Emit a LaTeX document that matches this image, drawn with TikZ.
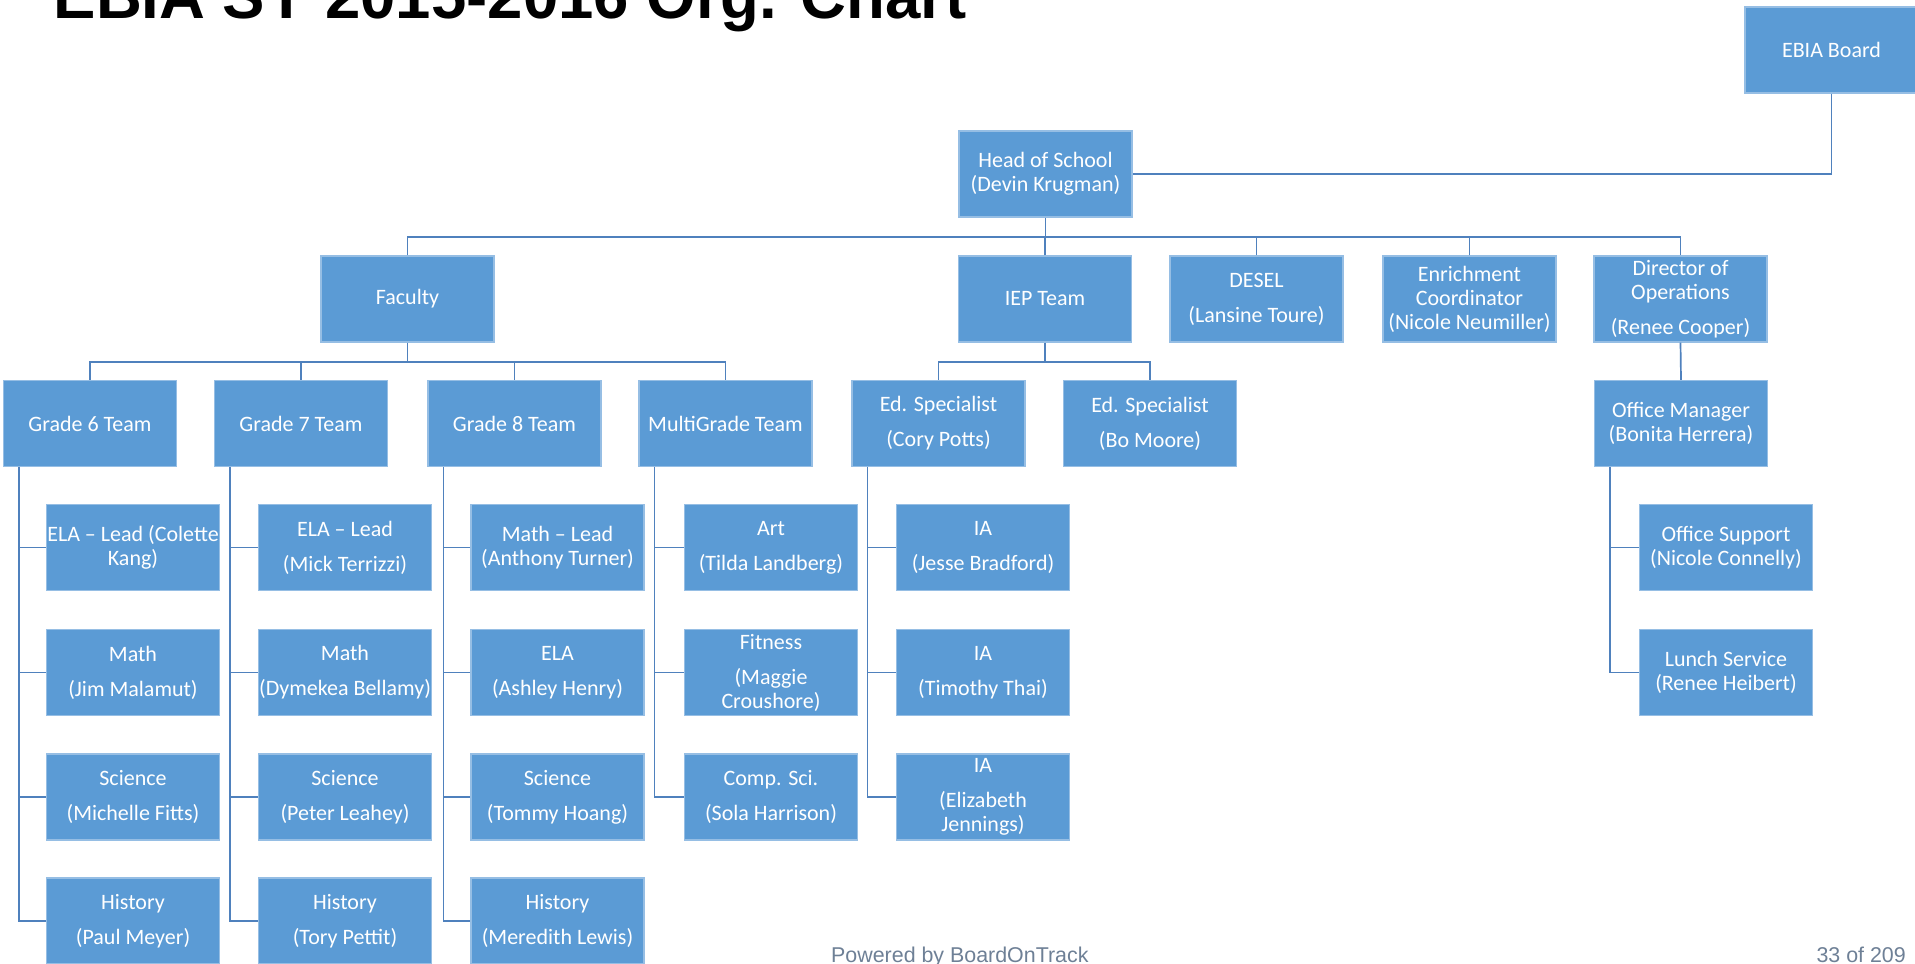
\documentclass[tikz,border=0pt]{standalone}
\usepackage{fontspec}
\setmainfont{Carlito}
\newfontfamily\arialfont{Liberation Sans}
\definecolor{boxblue}{RGB}{91,155,213}
\definecolor{boxedge}{RGB}{150,190,228}
\definecolor{connblue}{RGB}{79,129,189}
\definecolor{footgray}{RGB}{110,128,150}
\tikzset{
  orgbox/.style={rectangle, fill=boxblue, draw=boxedge, line width=1.2pt,
    minimum width=173pt, minimum height=86pt, inner sep=0pt, align=center,
    text=white, font=\fontsize{22}{24}\selectfont},
  conn/.style={draw=connblue, line width=1.7pt},
}
\newcommand{\gp}{\\[11pt]}
\begin{document}
\begin{tikzpicture}[x=1pt,y=-1pt]
\useasboundingbox[fill=white] (0,0) rectangle (1915,964);
% title and footer
\node[anchor=base west, inner sep=0pt, font=\arialfont\bfseries\fontsize{63.5}{70}\selectfont] (title) at (53.5,18) {EBIA SY 2015-2016 Org. Chart};
\node[anchor=base west, inner sep=0pt, text=footgray, font=\arialfont\fontsize{21.4}{24}\selectfont] (foot) at (831,962) {Powered by BoardOnTrack};
\node[anchor=base east, inner sep=0pt, text=footgray, font=\arialfont\fontsize{21.4}{24}\selectfont] (page) at (1906,962) {33 of 209};
% top levels
\node[orgbox] (board) at (1831.5,50) {EBIA Board};
\node[orgbox] (head) at (1045.5,174) {Head of School\\(Devin Krugman)};
\node[orgbox] (faculty) at (407.5,299) {Faculty};
\node[orgbox] (iep) at (1045,299) {IEP Team};
\node[orgbox] (desel) at (1256.5,299) {DESEL\gp(Lansine Toure)};
\node[orgbox] (enrich) at (1469.5,299) {Enrichment\\Coordinator\\(Nicole Neumiller)};
\node[orgbox] (dir) at (1680.5,299) {Director of\\Operations\gp(Renee Cooper)};
% level 3
\node[orgbox] (g6) at (90,423.5) {Grade 6 Team};
\node[orgbox] (g7) at (301,423.5) {Grade 7 Team};
\node[orgbox] (g8) at (514.5,423.5) {Grade 8 Team};
\node[orgbox] (multi) at (725.5,423.5) {MultiGrade Team};
\node[orgbox] (ed1) at (938.5,423.5) {Ed. Specialist\gp(Cory Potts)};
\node[orgbox] (ed2) at (1150,423.5) {Ed. Specialist\gp(Bo Moore)};
\node[orgbox] (om) at (1681,423.5) {Office Manager\\(Bonita Herrera)};
% grade 6
\node[orgbox] (g6a) at (133,547.5) {ELA – Lead (Colette\\Kang)};
\node[orgbox] (g6b) at (133,672.5) {Math\gp(Jim Malamut)};
\node[orgbox] (g6c) at (133,797) {Science\gp(Michelle Fitts)};
\node[orgbox] (g6d) at (133,921) {History\gp(Paul Meyer)};
% grade 7
\node[orgbox] (g7a) at (345,547.5) {ELA – Lead\gp(Mick Terrizzi)};
\node[orgbox] (g7b) at (345,672.5) {Math\gp(Dymekea Bellamy)};
\node[orgbox] (g7c) at (345,797) {Science\gp(Peter Leahey)};
\node[orgbox] (g7d) at (345,921) {History\gp(Tory Pettit)};
% grade 8
\node[orgbox] (g8a) at (557.5,547.5) {Math – Lead\\(Anthony Turner)};
\node[orgbox] (g8b) at (557.5,672.5) {ELA\gp(Ashley Henry)};
\node[orgbox] (g8c) at (557.5,797) {Science\gp(Tommy Hoang)};
\node[orgbox] (g8d) at (557.5,921) {History\gp(Meredith Lewis)};
% multigrade
\node[orgbox] (ma) at (771,547.5) {Art\gp(Tilda Landberg)};
\node[orgbox] (mb) at (771,672.5) {Fitness\gp(Maggie\\Croushore)};
\node[orgbox] (mc) at (771,797) {Comp. Sci.\gp(Sola Harrison)};
% IA
\node[orgbox] (ia1) at (983,547.5) {IA\gp(Jesse Bradford)};
\node[orgbox] (ia2) at (983,672.5) {IA\gp(Timothy Thai)};
\node[orgbox] (ia3) at (983,797) {IA\gp(Elizabeth\\Jennings)};
% office
\node[orgbox] (os) at (1726,547.5) {Office Support\\(Nicole Connelly)};
\node[orgbox] (ls) at (1726,672.5) {Lunch Service\\(Renee Heibert)};
% connectors top
\draw[conn] (board.south) |- (head.east);
\coordinate (hbar) at (1045,237);
\draw[conn] (head.south) -- (head.south |- hbar);
\draw[conn] (faculty.north) -- (faculty.north |- hbar) -- (dir.north |- hbar) -- (dir.north);
\foreach \n in {iep,desel,enrich} \draw[conn] (\n.north) -- (\n.north |- hbar);
\coordinate (fbar) at (407,362);
\draw[conn] (faculty.south) -- (faculty.south |- fbar);
\draw[conn] (g6.north) -- (g6.north |- fbar) -- (multi.north |- fbar) -- (multi.north);
\foreach \n in {g7,g8} \draw[conn] (\n.north) -- (\n.north |- fbar);
\draw[conn] (iep.south) -- (iep.south |- fbar);
\draw[conn] (ed1.north) -- (ed1.north |- fbar) -- (ed2.north |- fbar) -- (ed2.north);
\draw[conn] (dir.south) -- (om.north);
% child connectors
\foreach \p/\kids/\last in {g6/{g6a,g6b,g6c,g6d}/g6d, g7/{g7a,g7b,g7c,g7d}/g7d, g8/{g8a,g8b,g8c,g8d}/g8d, multi/{ma,mb,mc}/mc, ed1/{ia1,ia2,ia3}/ia3, om/{os,ls}/ls}{
  \coordinate (\p l) at ([xshift=16pt]\p.south west);
  \draw[conn] (\p l) |- (\last.west);
  \foreach \k in \kids \draw[conn] (\p l |- \k.west) -- (\k.west);
}
\end{tikzpicture}
\end{document}
